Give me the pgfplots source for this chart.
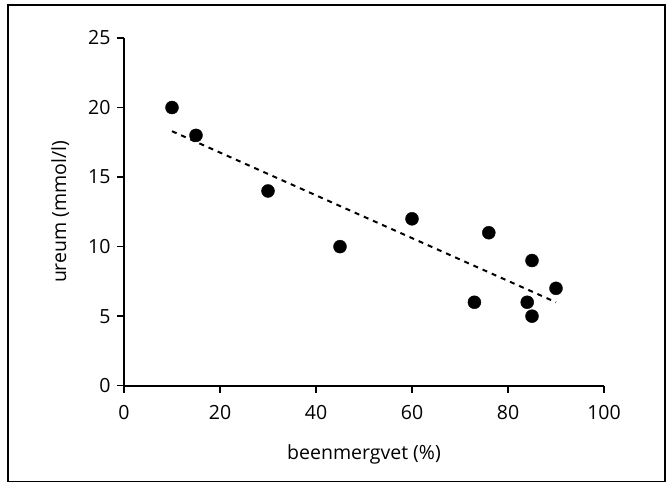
\documentclass[border=0pt]{standalone}
\usepackage{pgfplots}
\pgfplotsset{compat=1.18}
\usepackage{fontspec}
\setmainfont{Open Sans}
\begin{document}
\begin{tikzpicture}[x=1pt,y=1pt]
\path (0,0) rectangle (672,483);
\draw[line width=1.8pt] (8,1.5) rectangle (665,478.3);
\begin{axis}[
  at={(124pt,97.3pt)}, anchor=origin,
  scale only axis, width=480pt, height=347.7pt,
  xmin=0, xmax=100, ymin=0, ymax=25,
  axis lines=left, axis line style={line width=1.6pt, -},
  xtick={0,20,...,100}, ytick={0,5,...,25},
  tick style={line width=1.4pt, black},
  tick align=outside, major tick length=7pt,
  ticklabel style={font=\fontsize{19.5}{22}\selectfont},
  /pgf/number format/assume math mode=true,
  xticklabel style={yshift=-9pt},
  yticklabel style={xshift=-3pt},
  xlabel={beenmergvet (\%)}, ylabel={ureum (mmol/l)},
  label style={font=\fontsize{19.5}{22}\selectfont},
  xlabel style={yshift=-18pt},
  ylabel style={yshift=12pt},
  clip=false,
]
\addplot[only marks, mark=*, mark size=6.5pt, black] coordinates {
(10,20) (15,18) (30,14) (45,10) (60,12) (73,6) (76,11) (84,6) (85,9) (85,5) (90,7)};
\addplot[black, line width=2pt, dash pattern=on 5pt off 5pt] coordinates {(10,18.3) (90,6.0)};
\end{axis}
\end{tikzpicture}
\end{document}
